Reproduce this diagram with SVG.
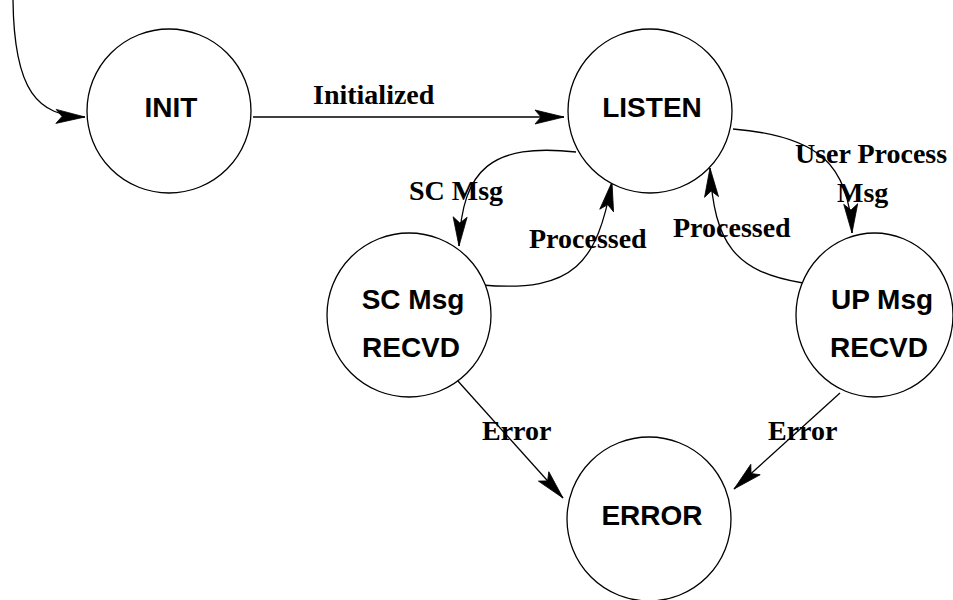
<svg xmlns="http://www.w3.org/2000/svg" width="953" height="600" viewBox="0 0 953 600">
  <style>
    .state { fill: #ffffff; stroke: #000000; stroke-width: 1.3; }
    .name { font-family: "Liberation Sans", Arial, sans-serif; font-weight: bold; font-size: 28px; fill: #000000; text-anchor: middle; }
    .edge { fill: none; stroke: #000000; stroke-width: 1.3; marker-end: url(#head); }
    .label { font-family: "Liberation Serif", "Times New Roman", serif; font-weight: bold; font-size: 28px; fill: #000000; }
  </style>
  <defs>
    <!-- filled, slightly indented arrowhead; tip sits on the path end -->
    <marker id="head" markerUnits="userSpaceOnUse" viewBox="-30 -8 31 16" refX="0" refY="0" markerWidth="31" markerHeight="16" orient="auto" overflow="visible">
      <path d="M0,0 L-29,-7 L-23,0 L-29,7 Z" fill="#000000" stroke="#000000" stroke-width="0.8" stroke-linejoin="miter"/>
    </marker>
  </defs>
  <rect width="953" height="600" fill="#ffffff"/>

  <g id="connectors">
    <path id="e-start" class="edge" d="M13,0 C14,92 38,116 85,117"/>
    <path id="e-init-listen" class="edge" d="M253,117 L564,117"/>
    <path id="e-listen-sc" class="edge" d="M576,152 C492,143 462,168 459,246"/>
    <path id="e-sc-listen" class="edge" d="M482,285 C575,293 597,262 612,182"/>
    <path id="e-listen-up" class="edge" d="M733,129 C820,136 849,166 852,233"/>
    <path id="e-up-listen" class="edge" d="M803,283 C735,272 714,244 710,168"/>
    <path id="e-sc-error" class="edge" d="M457,380 L563,498"/>
    <path id="e-up-error" class="edge" d="M840,393 L734,489"/>
  </g>

  <g id="edge-labels">
    <text class="label" x="313" y="104">Initialized</text>
    <text class="label" x="409" y="200">SC Msg</text>
    <text class="label" x="529" y="248">Processed</text>
    <text class="label" x="795" y="163">User Process</text>
    <text class="label" x="837" y="202">Msg</text>
    <text class="label" x="673" y="237">Processed</text>
    <text class="label" x="482" y="440">Error</text>
    <text class="label" x="768" y="440">Error</text>
  </g>

  <g id="init">
    <circle class="state" cx="169" cy="111" r="82"/>
    <text class="name" x="171" y="117">INIT</text>
  </g>
  <g id="listen">
    <circle class="state" cx="650" cy="111" r="82"/>
    <text class="name" x="652" y="117">LISTEN</text>
  </g>
  <g id="sc-msg-recvd">
    <circle class="state" cx="409" cy="315" r="82"/>
    <text class="name" x="413" y="309">SC Msg</text>
    <text class="name" x="411" y="357">RECVD</text>
  </g>
  <g id="up-msg-recvd">
    <ellipse class="state" cx="874.5" cy="315" rx="78.5" ry="82"/>
    <text class="name" x="882" y="309">UP Msg</text>
    <text class="name" x="879" y="357">RECVD</text>
  </g>
  <g id="error">
    <circle class="state" cx="649" cy="519" r="82"/>
    <text class="name" x="652" y="525">ERROR</text>
  </g>
</svg>
